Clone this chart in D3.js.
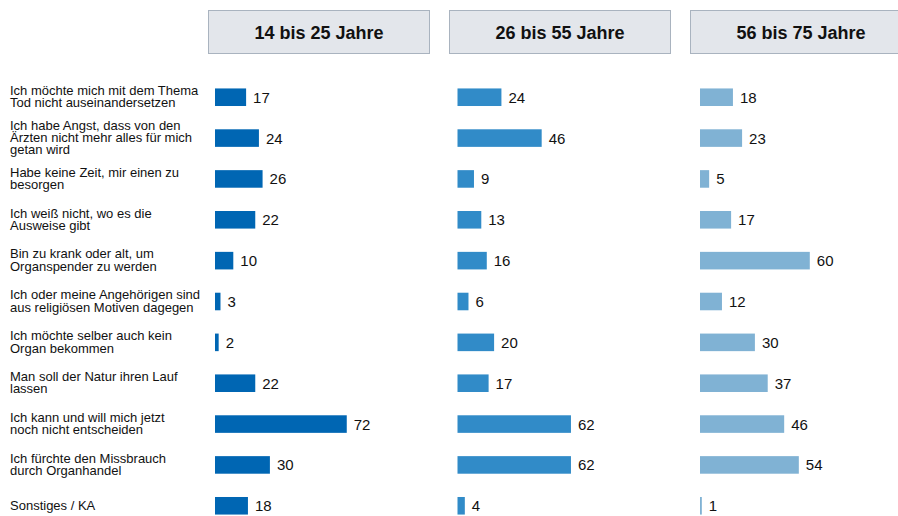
<!DOCTYPE html>
<html>
<head>
<meta charset="utf-8">
<script src="https://cdn.jsdelivr.net/npm/d3@7"></script>
<style>
  body { margin: 0; background: #fff; }
  svg { display: block; font-family: "Liberation Sans", Arial, sans-serif; }
</style>
</head>
<body>
<svg id="chart" width="898" height="516"></svg>
<script>
// reasons (each label split into its lines)
const reasons = [
  ["Ich möchte mich mit dem Thema", "Tod nicht auseinandersetzen"],
  ["Ich habe Angst, dass von den", "Ärzten nicht mehr alles für mich", "getan wird"],
  ["Habe keine Zeit, mir einen zu", "besorgen"],
  ["Ich weiß nicht, wo es die", "Ausweise gibt"],
  ["Bin zu krank oder alt, um", "Organspender zu werden"],
  ["Ich oder meine Angehörigen sind", "aus religiösen Motiven dagegen"],
  ["Ich möchte selber auch kein", "Organ bekommen"],
  ["Man soll der Natur ihren Lauf", "lassen"],
  ["Ich kann und will mich jetzt", "noch nicht entscheiden"],
  ["Ich fürchte den Missbrauch", "durch Organhandel"],
  ["Sonstiges / KA"]
];

const ageGroups = ["14 bis 25 Jahre", "26 bis 55 Jahre", "56 bis 75 Jahre"];

const age14to25 = [17, 24, 26, 22, 10, 3, 2, 22, 72, 30, 18];
const age26to55 = [24, 46, 9, 13, 16, 6, 20, 17, 62, 62, 4];
const age56to75 = [18, 23, 5, 17, 60, 12, 30, 37, 46, 54, 1];

const series = [age14to25, age26to55, age56to75];
const colors = ["#0066b3", "#318bc8", "#80b2d4"];

const svg = d3.select("#chart");

// panel positions (header boxes and bar baselines)
const panelX = d3.scalePoint().domain(ageGroups).range([208, 690]);
const barX = d3.scalePoint().domain(ageGroups).range([215, 700]);
const x = d3.scaleLinear().domain([0, 100]).range([0, 183]);
const y = d3.scaleBand()
  .domain(d3.range(reasons.length))
  .range([77, 526])
  .paddingInner(0.57)
  .paddingOuter(0.28);

// header boxes
const head = svg.selectAll("g.head")
  .data(ageGroups)
  .enter()
  .append("g")
  .attr("class", "head")
  .attr("transform", d => "translate(" + panelX(d) + ",10)");

head.append("rect")
  .attr("x", 0.5)
  .attr("y", 0.5)
  .attr("width", 221)
  .attr("height", 43)
  .attr("fill", "#e3e6eb")
  .attr("stroke", "#a9b3bf");

head.append("text")
  .attr("x", 111)
  .attr("y", 29)
  .attr("text-anchor", "middle")
  .style("font-size", "18px")
  .style("font-weight", "bold")
  .attr("fill", "#111")
  .text(d => d);

// row labels
const label = svg.selectAll("text.reason")
  .data(reasons)
  .enter()
  .append("text")
  .attr("class", "reason")
  .attr("x", 10)
  .style("font-size", "13px")
  .attr("fill", "#111");

label.each(function(lines, i) {
  const cy = y(i) + y.bandwidth() / 2;
  const lh = 12.3;
  const top = cy - (lines.length - 1) * lh / 2 + 4;
  d3.select(this).selectAll("tspan")
    .data(lines)
    .enter()
    .append("tspan")
    .attr("x", 10)
    .attr("y", (d, j) => top + j * lh)
    .text(d => d);
});

// bars per panel
series.forEach((vals, k) => {
  const g = svg.append("g")
    .attr("transform", "translate(" + barX(ageGroups[k]) + ",0)");

  g.selectAll("rect")
    .data(vals)
    .enter()
    .append("rect")
    .attr("x", 0)
    .attr("y", (d, i) => y(i))
    .attr("width", d => Math.max(x(d), 1.5))
    .attr("height", y.bandwidth())
    .attr("fill", colors[k]);

  g.selectAll("text")
    .data(vals)
    .enter()
    .append("text")
    .attr("x", d => Math.max(x(d), 1.5) + 7)
    .attr("y", (d, i) => y(i) + y.bandwidth() / 2 + 5.5)
    .style("font-size", "15px")
    .attr("fill", "#111")
    .text(d => d);
});
</script>
</body>
</html>
